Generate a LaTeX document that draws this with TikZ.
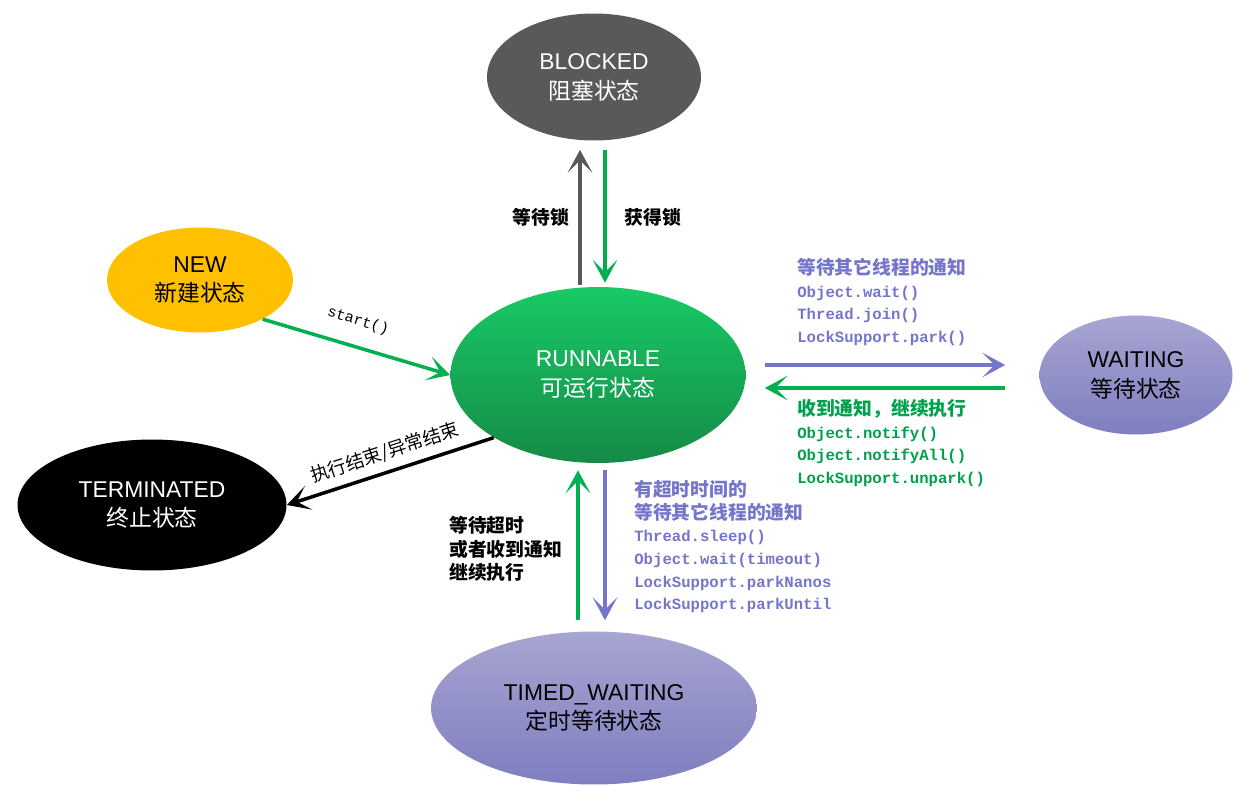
\documentclass[tikz,border=0pt]{standalone}
\usepackage{fontspec}
\setmainfont{Liberation Sans}
\setmonofont{Liberation Mono}
\newfontfamily\cjk{Noto Sans CJK SC}
\usetikzlibrary{shapes.geometric,arrows.meta,calc}
\definecolor{blockgray}{HTML}{595959}
\definecolor{newyellow}{HTML}{FFC000}
\definecolor{runtop}{HTML}{18CA66}
\definecolor{runbot}{HTML}{158A47}
\definecolor{waittop}{HTML}{A7A5D1}
\definecolor{waitbot}{HTML}{7F7EC0}
\definecolor{waitblue}{HTML}{7575CB}
\definecolor{gogreen}{HTML}{00B050}
\definecolor{gotext}{HTML}{00A14B}
\begin{document}
\begin{tikzpicture}[x=0.02cm,y=-0.02cm,line join=round,
	state/.style={ellipse,inner sep=0pt,align=center,font=\fontsize{13}{17}\selectfont},
	link/.style={line width=2pt,-{Stealth[length=13pt,width=14pt,inset=7pt]}},
	tag/.style={inner sep=0pt,anchor=north west,align=left,font=\ttfamily\bfseries\fontsize{8.9}{12.9}\selectfont},
	hz/.style={font=\cjk\bfseries\fontsize{10.7}{12.9}\selectfont}]
	\useasboundingbox (0,0) rectangle (1253,808);
	% states
	\node[state,fill=blockgray,text=white,minimum width=4.28cm,minimum height=2.54cm] (blocked) at (594,77) {BLOCKED\\{\cjk 阻塞状态}};
	\node[state,fill=newyellow,minimum width=3.72cm,minimum height=2.1cm] (new) at (200,280) {NEW\\{\cjk 新建状态}};
	\node[state,top color=runtop,bottom color=runbot,text=white,minimum width=5.9cm,minimum height=3.52cm] (runnable) at (598,375) {RUNNABLE\\{\cjk 可运行状态}};
	\node[state,top color=waittop,bottom color=waitbot,minimum width=3.86cm,minimum height=2.38cm] (waiting) at (1136,375) {WAITING\\{\cjk 等待状态}};
	\node[state,fill=black,text=white,minimum width=5.38cm,minimum height=2.62cm] (terminated) at (152,505) {TERMINATED\\{\cjk 终止状态}};
	\node[state,top color=waittop,bottom color=waitbot,minimum width=6.52cm,minimum height=3.06cm] (timed) at (594,708) {TIMED\_WAITING\\{\cjk 定时等待状态}};
	% transitions
	\draw[link,blockgray] ($(runnable.north)+(-18,-2)$) -- ($(blocked.south)+(-14,9)$);
	\draw[link,gogreen] ($(blocked.south)+(11,9)$) -- ($(runnable.north)+(7,-4)$);
	\draw[link,gogreen] (new.-32) -- (runnable.west);
	\draw[link,black] (runnable.211) -- (terminated.east);
	\draw[link,waitblue] ($(runnable.east)+(19,-10)$) -- ($(waiting.west)+(-34,-10)$);
	\draw[link,gogreen] ($(waiting.west)+(-34,13)$) -- ($(runnable.east)+(19,13)$);
	\draw[link,gogreen] ($(timed.north)+(-16,-11)$) -- ($(runnable.south)+(-20,7)$);
	\draw[link,waitblue] ($(runnable.south)+(7,7)$) -- ($(timed.north)+(11,-11)$);
	% labels
	\node[hz] (lockwait) at (541,217) {等待锁};
	\node[hz] (lockget) at (653,217) {获得锁};
	\node[rotate=-17,font=\ttfamily\fontsize{8.6}{10}\selectfont] (startlbl) at (358,321) {start()};
	\node[rotate=18,font=\cjk\fontsize{10.5}{12}\selectfont] (endlbl) at (385,453) {执行结束/异常结束};
	\node[tag,text=waitblue] (waitnote) at (797,258) {{\cjk\fontsize{10.7}{12.9}\selectfont 等待其它线程的通知}\\Object.wait()\\Thread.join()\\LockSupport.park()};
	\node[tag,text=gotext] (notifynote) at (797,399) {{\cjk\fontsize{10.7}{12.9}\selectfont 收到通知，继续执行}\\Object.notify()\\Object.notifyAll()\\LockSupport.unpark()};
	\node[tag,text=waitblue] (timednote) at (634,480) {{\cjk\fontsize{10.7}{12.9}\selectfont 有超时时间的}\\{\cjk\fontsize{10.7}{12.9}\selectfont 等待其它线程的通知}\\Thread.sleep()\\Object.wait(timeout)\\LockSupport.parkNanos\\LockSupport.parkUntil};
	\node[tag,font=\cjk\bfseries\fontsize{10.7}{13.4}\selectfont] (backnote) at (449,516) {等待超时\\或者收到通知\\继续执行};
\end{tikzpicture}
\end{document}
